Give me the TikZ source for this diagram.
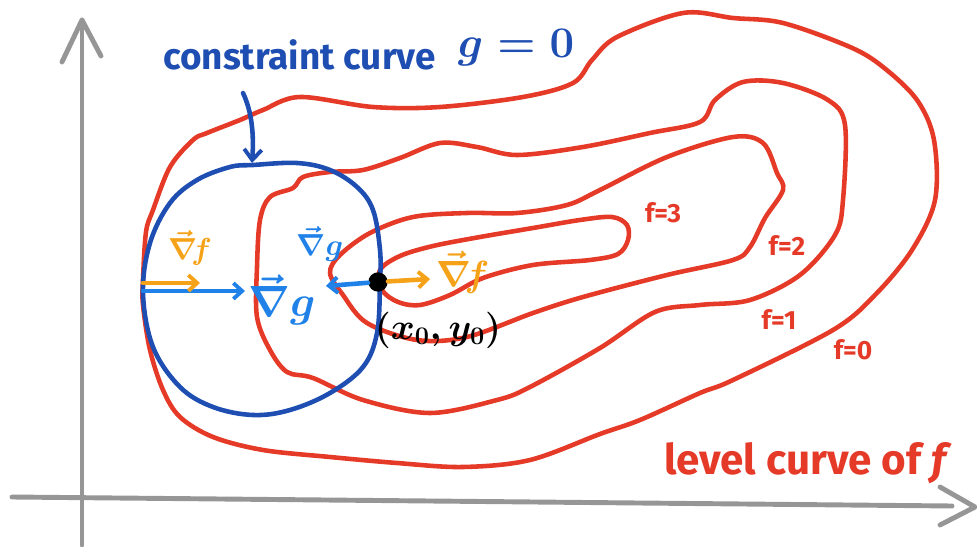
\documentclass[tikz,border=0pt]{standalone}
\usepackage{fontspec}
\setsansfont{Fira Sans}
\usetikzlibrary{arrows.meta}
\definecolor{cred}{RGB}{230,58,40}
\definecolor{cdblue}{RGB}{30,78,178}
\definecolor{clblue}{RGB}{32,130,232}
\definecolor{corange}{RGB}{245,162,24}
\definecolor{cgrey}{RGB}{150,150,150}
\begin{document}
\begin{tikzpicture}[x=0.02cm,y=-0.02cm,
  lvl/.style={cred,line width=2.6pt,line join=round},
  constr/.style={cdblue,line width=2.6pt,line join=round},
  axis/.style={cgrey,line width=2.8pt,line cap=round,line join=round},
  vecarrow/.style={line width=2.6pt,line cap=round,-{Straight Barb[length=5pt,width=9pt,line width=2.2pt]}},
  flabel/.style={text=cred,font=\sffamily\bfseries\fontsize{15}{18}\selectfont,inner sep=1pt},
  gradlbl/.style={inner sep=0pt}]
\useasboundingbox (0,0) rectangle (977,547);

% axes
\coordinate (yb) at (82,545);
\coordinate (yt) at (82,20);
\coordinate (yl) at (62,62);
\coordinate (yr) at (101,56);
\coordinate (xl) at (12,497);
\coordinate (xr) at (952,506);
\coordinate (xu) at (940,487);
\coordinate (xtip) at (975,507);
\coordinate (xd) at (940,525);
\draw[axis] (yb) -- (yt);
\draw[axis] (yl) -- (yt) -- (yr);
\draw[axis] (xl) -- (xr);
\draw[axis] (xu) -- (xtip) -- (xd);

% level curves of f
\draw[lvl] plot[smooth cycle,tension=0.55] coordinates {
 (143,280) (146,232) (153,210) (170,167) (193,140) (207,133) (240,120) (263,110)
 (300,97) (373,107) (440,107) (523,97) (573,83) (592,60) (617,37) (683,13)
 (733,18) (783,23) (850,47) (883,67) (917,100) (934,140) (935,200) (912,250)
 (875,295) (833,330) (733,380) (700,393) (640,420) (600,434) (530,460) (463,467)
 (397,463) (330,457) (263,450) (213,437) (180,417) (163,390) (150,350) (143,305)};
\draw[lvl] plot[smooth cycle,tension=0.55] coordinates {
 (330,172) (363,170) (400,158) (440,143) (477,147) (517,155) (583,147) (650,133)
 (700,122) (715,100) (743,82) (783,83) (828,100) (845,125) (843,200) (835,235)
 (800,275) (750,300) (700,305) (655,312) (600,348) (530,387) (497,400) (430,413)
 (363,400) (313,378) (287,372) (270,350) (257,317) (257,267) (260,220) (270,197)
 (293,188) (303,177)};
\draw[lvl] plot[smooth cycle,tension=0.55] coordinates {
 (330,273) (340,255) (370,233) (413,217) (467,213) (517,213) (567,205) (600,190)
 (667,157) (733,137) (763,143) (777,173) (783,190) (765,218) (750,247) (733,260)
 (667,275) (583,297) (533,313) (467,337) (417,340) (367,323) (343,295)};
\draw[lvl] plot[smooth cycle,tension=0.55] coordinates {
 (380,270) (400,256) (433,246) (480,237) (533,228) (580,220) (612,217) (627,225)
 (628,240) (618,254) (590,260) (533,265) (483,278) (450,295) (420,305) (398,302)
 (382,290)};

% constraint curve g=0
\draw[constr] plot[smooth cycle,tension=0.6] coordinates {
 (253,165) (297,163) (330,170) (357,187) (373,210) (380,250) (380,283) (377,333)
 (363,367) (330,393) (290,410) (253,415) (213,407) (180,387) (153,347) (143,293)
 (150,243) (170,203) (197,180) (230,167)};

% labels of f
\node[flabel] (f3) at (663,213) {f=3};
\node[flabel] (f2) at (787,245) {f=2};
\node[flabel] (f1) at (779,319) {f=1};
\node[flabel] (f0) at (853,350) {f=0};
\node[text=cred,font=\sffamily\bfseries\fontsize{24}{28}\selectfont,inner sep=0pt] (lvlname) at (805,463) {level curve of \itshape f};

% constraint label and arrow
\node[text=cdblue,font=\sffamily\bfseries\fontsize{21}{24}\selectfont,inner sep=0pt,anchor=base west] (cname) at (163,70) {constraint curve};
\node[text=cdblue,font=\boldmath\fontsize{30}{34}\selectfont,inner sep=0pt] (geq) at (516,48) {$g=0$};
\coordinate (cs) at (243,93);
\coordinate (ce) at (252,163);
\draw[cdblue,line width=2.6pt,line cap=round,-{Straight Barb[length=6pt,width=10pt,line width=2.2pt]}] (cs) .. controls (252,112) and (254,135) .. (ce);

% gradients at the left point
\coordinate (L1) at (143,283);
\coordinate (L1e) at (200,283);
\coordinate (L2) at (143,291);
\coordinate (L2e) at (245,291);
\draw[vecarrow,clblue] (L2) -- (L2e);
\draw[vecarrow,corange] (L1) -- (L1e);
\node[gradlbl,text=corange,font=\boldmath\fontsize{19}{22}\selectfont] (gfL) at (190,248) {$\vec{\nabla}\!f$};
\node[gradlbl,text=clblue,font=\boldmath\fontsize{24}{28}\selectfont] (ggL) at (282,300) {$\vec{\nabla} g$};

% gradients at (x0,y0)
\node[circle,fill=black,inner sep=0pt,minimum size=11pt] (P) at (378,282) {};
\coordinate (Pg) at (326,286);
\coordinate (Pf) at (430,279);
\draw[vecarrow,clblue] (P) -- (Pg);
\draw[vecarrow,corange] (P) -- (Pf);
\node[gradlbl,text=clblue,font=\boldmath\fontsize{19}{22}\selectfont] (ggP) at (320,244) {$\vec{\nabla} g$};
\node[gradlbl,text=corange,font=\boldmath\fontsize{20}{24}\selectfont] (gfP) at (463,272) {$\vec{\nabla}\!f$};
\node[inner sep=0pt,font=\boldmath\fontsize{20}{24}\selectfont] (Plbl) at (438,330) {$(x_0,y_0)$};
\end{tikzpicture}
\end{document}
